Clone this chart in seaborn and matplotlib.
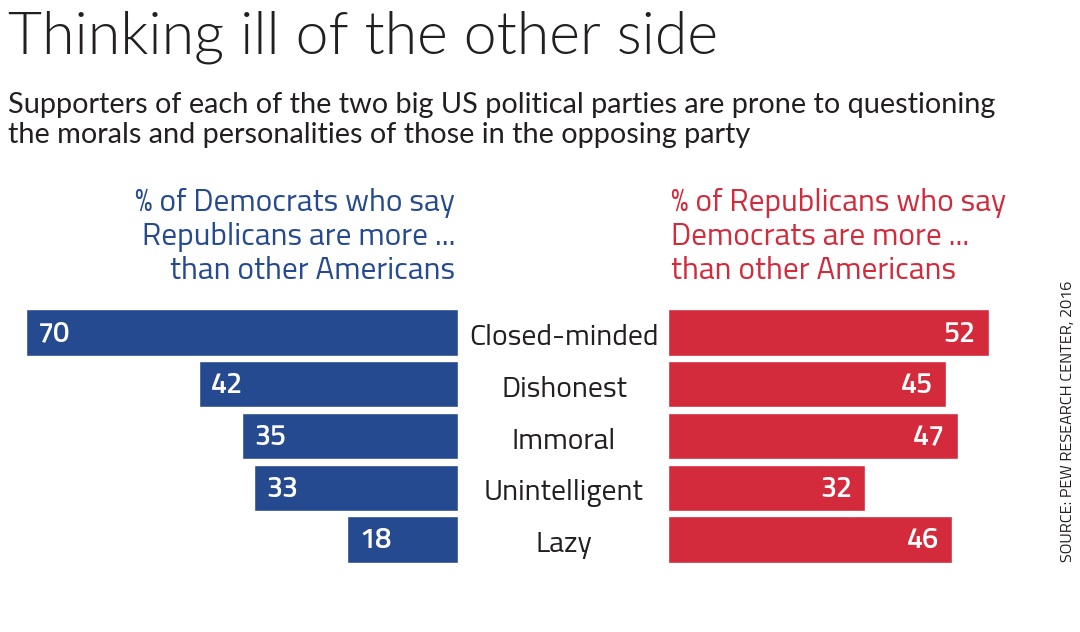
import matplotlib
matplotlib.use("Agg")
import matplotlib.pyplot as plt
import seaborn as sns
import pandas as pd

traits = ["Closed-minded", "Dishonest", "Immoral", "Unintelligent", "Lazy"]
dem_values = [70, 42, 35, 33, 18]
rep_values = [52, 45, 47, 32, 46]

title = "Thinking ill of the other side"
subtitle_lines = ["Supporters of each of the two big US political parties are prone to questioning",
                  "the morals and personalities of those in the opposing party"]
dem_header = ["% of Democrats who say", "Republicans are more ...", "than other Americans"]
rep_header = ["% of Republicans who say", "Democrats are more ...", "than other Americans"]
source = "SOURCE: PEW RESEARCH CENTER, 2016"

BLUE = "#264a8f"
RED = "#d32a3c"
INK = "#231f20"

sns.set_theme(style="white")
plt.rcParams["font.family"] = ["Lato", "DejaVu Sans"]
LATO = ["Lato", "DejaVu Sans"]
OFF = ["Titillium Web", "DejaVu Sans"]

W, H = 1080, 632
fig = plt.figure(figsize=(W / 100, H / 100), dpi=100)
fig.patch.set_facecolor("white")
renderer = fig.canvas.get_renderer()

def fx(px):
    return px / W

def fy(py):
    return 1 - py / H

def fit(t, target, axis="w"):
    for _ in range(3):
        bb = t.get_window_extent(renderer)
        cur = bb.width if axis == "w" else bb.height
        t.set_fontsize(t.get_fontsize() * target / cur)
    return t.get_fontsize()

scale = 6.17  # px per unit
row = 51.7
top_px = 306.8
bot_px = top_px + 5 * row

l_left, l_right = 8, 458
axL = fig.add_axes([fx(l_left), fy(bot_px), fx(l_right - l_left), (bot_px - top_px) / H])
r_left, r_right = 668, 1040
axR = fig.add_axes([fx(r_left), fy(bot_px), fx(r_right - r_left), (bot_px - top_px) / H])

dfL = pd.DataFrame({"trait": traits, "value": dem_values})
dfR = pd.DataFrame({"trait": traits, "value": rep_values})

sns.barplot(data=dfL, y="trait", x="value", ax=axL, color=BLUE, width=46.3 / row,
            saturation=1, orient="h")
sns.barplot(data=dfR, y="trait", x="value", ax=axR, color=RED, width=46.3 / row,
            saturation=1, orient="h")

axL.set_xlim((l_right - l_left) / scale, 0)
axR.set_xlim(0, (r_right - r_left) / scale)
for ax in (axL, axR):
    ax.set_ylim(4.5, -0.5)
    ax.axis("off")

# value font size: "70" about 32 px wide
probe = fig.text(0, 0, "70", family=OFF, fontweight=600, fontsize=20)
vsize = fit(probe, 32)
probe.remove()

for i, v in enumerate(dem_values):
    axL.annotate(str(v), xy=(v, i), xytext=(12 * 0.72, -1), textcoords="offset points",
                 ha="left", va="center", color="white", fontsize=vsize, fontweight=600,
                 family=OFF)
for i, v in enumerate(rep_values):
    axR.annotate(str(v), xy=(v, i), xytext=(-13 * 0.72, -1), textcoords="offset points",
                 ha="right", va="center", color="white", fontsize=vsize, fontweight=600,
                 family=OFF)

probe = fig.text(0, 0, "Closed-minded", family=OFF, fontsize=20)
lsize = fit(probe, 190)
probe.remove()
for i, t in enumerate(traits):
    fig.text(fx(564), fy(top_px + row * (i + 0.5) + 12.5), t, ha="center", va="baseline",
             fontsize=lsize, color=INK, family=OFF)

tt = fig.text(fx(7.5), fy(54), title, fontsize=44, fontweight=300, color=INK,
              ha="left", va="baseline", family=LATO)
fit(tt, 709)

s1 = fig.text(fx(8), fy(113), subtitle_lines[0], fontsize=20, color=INK, ha="left",
              va="baseline", family=LATO)
ssize = fit(s1, 990)
fig.text(fx(8), fy(143.3), subtitle_lines[1], fontsize=ssize, color=INK, ha="left",
         va="baseline", family=LATO)

h1 = fig.text(fx(455), fy(210.7), dem_header[0], fontsize=20, color=BLUE, ha="right",
              va="baseline", family=OFF)
hsize = fit(h1, 320)
for k, line in enumerate(dem_header[1:], start=1):
    fig.text(fx(455), fy(210.7 + 34 * k), line, fontsize=hsize, color=BLUE, ha="right",
             va="baseline", family=OFF)
for k, line in enumerate(rep_header):
    fig.text(fx(671), fy(210.7 + 34 * k), line, fontsize=hsize, color=RED, ha="left",
             va="baseline", family=OFF)

src = fig.text(fx(1068), fy(421), source, rotation=90, fontsize=11, color=INK,
               ha="center", va="center", family=OFF)
fit(src, 282, axis="h")

fig.savefig("out.png", dpi=100, facecolor="white")
